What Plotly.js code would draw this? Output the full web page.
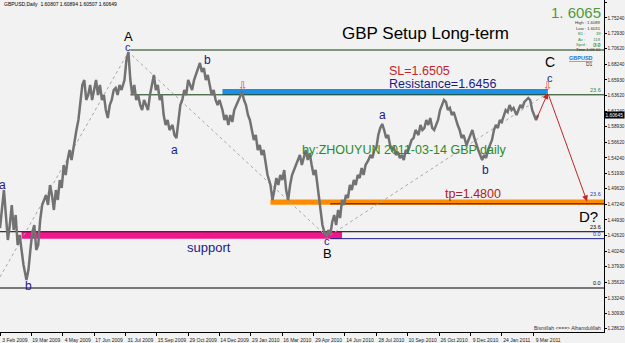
<!DOCTYPE html>
<html><head><meta charset="utf-8">
<script src="https://cdn.plot.ly/plotly-3.0.1.min.js"></script>
<style>html,body{margin:0;padding:0;background:#f2f2f2}#c{width:625px;height:343px}</style>
</head><body><div id="c"></div>
<script>
// ---- data (bar index = trading day counted from 3 Feb 2009) ----
const tickBars = [0,32,64,96,128,160,192,224,256,288,320,352,384,416,448,480,512,544];
const dateLabels = ["3 Feb 2009","19 Mar 2009","4 May 2009","17 Jun 2009","31 Jul 2009","15 Sep 2009","29 Oct 2009","14 Dec 2009","29 Jan 2010","16 Mar 2010","29 Apr 2010","14 Jun 2010","28 Jul 2010","10 Sep 2010","26 Oct 2010","9 Dec 2010","24 Jan 2011","9 Mar 2011"];
const yTicks = [1.7762,1.7524,1.7293,1.7062,1.6824,1.6593,1.6362,1.6124,1.5893,1.5662,1.5424,1.5193,1.4962,1.4724,1.4493,1.4262,1.4024,1.3793,1.3562,1.3324,1.3093,1.2862];

const priceBar = [0,2,4,6,8,10,12,14,16,18,20,22,24,27,29,31,33,35,37,39,41,43,45,47,49,51,53,55,57,59,61,63,65,67,69,71,73,76,78,80,82,84,86,88,90,92,94,96,98,100,102,104,106,108,110,112,114,116,118,120,122,124,127,129,131,133,135,137,139,141,143,145,147,149,151,153,155,157,159,161,163,165,167,169,171,173,176,178,180,182,184,186,188,190,192,194,196,198,200,202,204,206,208,210,212,214,216,218,220,222,224,227,229,231,233,235,237,239,241,243,245,247,249,251,253,255,257,259,261,263,265,267,269,271,273,276,278,280,282,284,286,288,290,292,294,296,298,300,302,304,306,308,310,312,314,316,318,320,322,324,327,329,331,333,335,337,339,341,343,345,347,349,351,353,355,357,359,361,363,365,367,369,371,373,376,378,380,382,384,386,388,390,392,394,396,398,400,402,404,406,408,410,412,414,416,418,420,422,424,427,429,431,433,435,437,439,441,443,445,447,449,451,453,455,457,459,461,463,465,467,469,471,473,476,478,480,482,484,486,488,490,492,494,496,498,500,502,504,506,508,510,512,514,516,518,520,522,524,527,529,531,533,535,537,539,541,543,545,547,549];
const priceVal = [1.4372,1.4717,1.4942,1.4567,1.4192,1.4417,1.4717,1.4342,1.4567,1.4117,1.4267,1.4042,1.3817,1.3592,1.3742,1.4042,1.4312,1.4417,1.4042,1.4117,1.4492,1.4717,1.4792,1.4867,1.4717,1.5017,1.4867,1.4642,1.4942,1.4792,1.5092,1.4972,1.5317,1.5167,1.5392,1.5542,1.5392,1.5692,1.5842,1.5992,1.6217,1.6517,1.6592,1.6292,1.6367,1.6517,1.6292,1.6442,1.6592,1.6367,1.6517,1.6292,1.6367,1.6142,1.6022,1.6217,1.6292,1.6442,1.6472,1.6367,1.6517,1.6442,1.6592,1.6892,1.7012,1.6592,1.6367,1.6517,1.6292,1.6367,1.6217,1.6142,1.6292,1.6217,1.6142,1.6367,1.6517,1.6667,1.6442,1.6517,1.6292,1.6367,1.6067,1.5917,1.5992,1.5842,1.5917,1.5767,1.5722,1.5992,1.6217,1.6292,1.6442,1.6367,1.6592,1.6517,1.6442,1.6592,1.6667,1.6742,1.6847,1.6712,1.6772,1.6592,1.6667,1.6517,1.6367,1.6442,1.6292,1.6217,1.6292,1.6142,1.5992,1.6067,1.5917,1.6067,1.5962,1.6142,1.6217,1.6292,1.6367,1.6412,1.6292,1.6217,1.6067,1.5992,1.5842,1.5692,1.5767,1.5542,1.5617,1.5467,1.5542,1.5317,1.5167,1.5017,1.4792,1.4942,1.5122,1.5017,1.5167,1.5092,1.5242,1.4942,1.4792,1.5017,1.5167,1.5242,1.5317,1.5362,1.5467,1.5317,1.5422,1.5542,1.5392,1.5497,1.5317,1.5167,1.5242,1.5017,1.4642,1.4417,1.4312,1.4237,1.4342,1.4267,1.4462,1.4567,1.4417,1.4642,1.4522,1.4792,1.4717,1.4867,1.4822,1.5017,1.4942,1.5092,1.5017,1.5167,1.5122,1.5272,1.5167,1.5317,1.5392,1.5467,1.5422,1.5542,1.5572,1.5767,1.5872,1.5932,1.5842,1.5722,1.5767,1.5617,1.5542,1.5572,1.5467,1.5512,1.5422,1.5467,1.5392,1.5542,1.5512,1.5617,1.5692,1.5722,1.5842,1.5767,1.5917,1.5842,1.5872,1.5992,1.5917,1.6022,1.5872,1.5842,1.5917,1.5992,1.6142,1.6217,1.6292,1.6262,1.6142,1.6172,1.6067,1.6112,1.5992,1.5917,1.5842,1.5722,1.5767,1.5617,1.5692,1.5767,1.5842,1.5722,1.5617,1.5542,1.5467,1.5392,1.5467,1.5422,1.5542,1.5617,1.5692,1.5842,1.5917,1.5872,1.5992,1.5962,1.6067,1.6142,1.6112,1.6217,1.6142,1.6172,1.6067,1.6142,1.6217,1.6172,1.6262,1.6292,1.6322,1.6292,1.6142,1.6067,1.5992,1.6067];

// wave zigzag (dotted) and forecast
const zigBar = [0,131,334,559];
const zigVal = [1.3637,1.7012,1.4237,1.6397];
const forecastBar = [547,559,599];
const forecastVal = [1.5992,1.6397,1.4770];

// wave labels
const waveText = ["A","c","b","a","a","b","c","B","a","b","C","c","D?"];
const waveBar  = [131,131,212,178,3,29,334,334,390,495,561,561,600];
const waveVal  = [1.7240,1.7086,1.6892,1.5542,1.5017,1.3502,1.4170,1.3990,1.6067,1.5242,1.6855,1.6620,1.4552];
const waveColor= ["#000","#1a1a8c","#1a1a8c","#1a1a8c","#1a1a8c","#1a1a8c","#1a1a8c","#000","#1a1a8c","#1a1a8c","#000","#1a1a8c","#000"];
const waveSize = [13,11,12,12,12,12,11,13,12,12,14,11,15];

// levels
const resistance = 1.6456, greenFib0 = 1.7042, greenFib236 = 1.6370;
const tp = 1.4800, orangeLow = 1.4720, blueFib236 = 1.4735;
const supportTop = 1.4311, supportLow = 1.4212, blackFib236 = 1.4316, blueFib0 = 1.4212, blackFib0 = 1.3472;
const slLevel = 1.6502;
const lastClose = 1.60645;

const X_END = 616.3;
const F = "Liberation Sans, Arial, sans-serif";

const shapes = [
  {type:'rect',layer:'below',x0:227,x1:559,y0:greenFib236,y1:resistance,fillcolor:'#1e8fe6',line:{width:0}},
  {type:'rect',layer:'below',x0:276,x1:X_END,y0:orangeLow,y1:tp,fillcolor:'#ff8c00',line:{width:0}},
  {type:'rect',layer:'below',x0:22,x1:349,y0:supportLow,y1:supportTop,fillcolor:'#f0168c',line:{width:0}},
  {type:'line',layer:'below',x0:133,x1:X_END,y0:greenFib0,y1:greenFib0,line:{color:'#0d3a0d',width:1}},
  {type:'line',layer:'below',x0:133,x1:X_END,y0:greenFib236,y1:greenFib236,line:{color:'#0d3a0d',width:1}},
  {type:'line',layer:'below',x0:337,x1:X_END,y0:blueFib236,y1:blueFib236,line:{color:'#8b3000',width:1.5}},
  {type:'line',layer:'below',x0:0,x1:X_END,y0:blackFib236,y1:blackFib236,line:{color:'#000',width:1}},
  {type:'line',layer:'below',x0:337,x1:X_END,y0:blueFib0,y1:blueFib0,line:{color:'#1a1a8c',width:1}},
  {type:'line',layer:'below',x0:0,x1:X_END,y0:blackFib0,y1:blackFib0,line:{color:'#000',width:1}}
];

const ann = [];
waveText.forEach((t,i)=>ann.push({x:waveBar[i],y:waveVal[i],xref:'x',yref:'y',text:t,showarrow:false,font:{family:F,size:waveSize[i],color:waveColor[i]}}));
function txt(x,y,t,size,color,xa){ann.push({x:x,y:y,xref:'x',yref:'y',text:t,showarrow:false,xanchor:xa||'left',font:{family:F,size:size,color:color}});}
txt(434,1.7297,"GBP Setup Long-term",17,"#000",'center');
txt(395,1.6727,"SL=1.6505",12.5,"#c0272d");
txt(395,1.6532,"Resistance=1.6456",12.5,"#1a1a8c");
txt(306,1.5542,"by:ZHOUYUN 2011-03-14 GBP daily",12.5,"#2a8a2a");
txt(452,1.4882,"tp=1.4800",12.5,"#b02020");
txt(189,1.4087,"support",13,"#1a1a8c");
// fib labels at right edge
function fl(y,t,c){ann.push({x:X_END-1,y:y,xref:'x',yref:'y',text:t,showarrow:false,xanchor:'right',yanchor:'bottom',font:{family:F,size:5.5,color:c}});}
fl(greenFib0,"0.0","#2e8b2e"); fl(greenFib236,"23.6","#2e8b2e"); fl(tp,"23.6","#3030c0");
fl(blackFib236,"23.6","#000"); fl(blueFib0,"0.0","#2020c0"); fl(blackFib0,"0.0","#000");
// forecast arrows
for(let i=1;i<forecastBar.length;i++){
  ann.push({x:forecastBar[i],y:forecastVal[i],ax:forecastBar[i-1],ay:forecastVal[i-1],xref:'x',yref:'y',axref:'x',ayref:'y',text:'',showarrow:true,arrowhead:2,arrowsize:1.2,arrowwidth:1,arrowcolor:'#c02828'});
}
// hollow down arrows
[248,559].forEach(b=>ann.push({x:b,y:slLevel,xref:'x',yref:'y',text:'⇩',showarrow:false,font:{family:'DejaVu Sans',size:12,color:'#e05050'}}));
// current price tag
ann.push({x:1,xref:'paper',y:lastClose,yref:'y',xanchor:'left',text:lastClose.toFixed(5),showarrow:false,bgcolor:'#000',font:{family:F,size:4.8,color:'#fff'},borderpad:0.5});
// header texts
function pt(x,y,t,size,color,xa){ann.push({x:x,y:y,xref:'paper',yref:'paper',text:t,showarrow:false,xanchor:xa||'left',yanchor:'middle',font:{family:F,size:size,color:color}});}
pt(0.003,0.988,"GBPUSD,Daily  1.60807 1.60894 1.60507 1.60649",5,"#000");
pt(0.998,0.962,"1. 6065",15,"#4e9a3a",'right');
const infoLines = [["High : 1.6089","#333"],["Low : 1.6031","#333"],["B1 :         39","#3a8a3a"],["Av :       118","#3a8a3a"],["Sprd :      3.2","#3a8a3a"],["Time 1:06:10","#333"]];
infoLines.forEach((l,i)=>pt(0.998,0.932-i*0.0165,l[0],4.2,l[1],'right'));
pt(0.985,0.826,"<b><u>GBPUSD</u></b>",5.5,"#1e6fd0",'right');
pt(0.985,0.806,"D1",5,"#333",'right');
pt(0.998,0.012,"Bismillah <===> Alhamdulillah",5,"#333",'right');

const traces = [
  {x:zigBar,y:zigVal,mode:'lines',line:{color:'#a8a8a8',width:1,dash:'dot'},hoverinfo:'skip'},
  {x:priceBar,y:priceVal,mode:'lines',line:{color:'#727272',width:2.5},hoverinfo:'skip'}
];

const layout = {
  width:625,height:343,margin:{l:0,r:21,t:0,b:11,pad:0},
  paper_bgcolor:'#f2f2f2',plot_bgcolor:'#f2f2f2',showlegend:false,
  xaxis:{range:[0,X_END],showgrid:false,zeroline:false,tickvals:tickBars,ticktext:dateLabels,
    tickfont:{family:F,size:5,color:'#222'},ticks:'outside',ticklen:3,tickcolor:'#000',
    showline:true,linecolor:'#000',linewidth:1,ticklabelshift:15,tickangle:0},
  yaxis:{range:[1.2812,1.7792],side:'right',showgrid:false,zeroline:false,tickvals:yTicks,
    ticktext:yTicks.map(v=>v.toFixed(5)),tickfont:{family:F,size:4.7,color:'#222'},
    ticks:'outside',ticklen:1.5,tickcolor:'#000',showline:true,linecolor:'#000',linewidth:1,ticklabelstandoff:0},
  shapes:shapes,annotations:ann
};
Plotly.newPlot('c',traces,layout,{staticPlot:true,displayModeBar:false});
</script></body></html>
